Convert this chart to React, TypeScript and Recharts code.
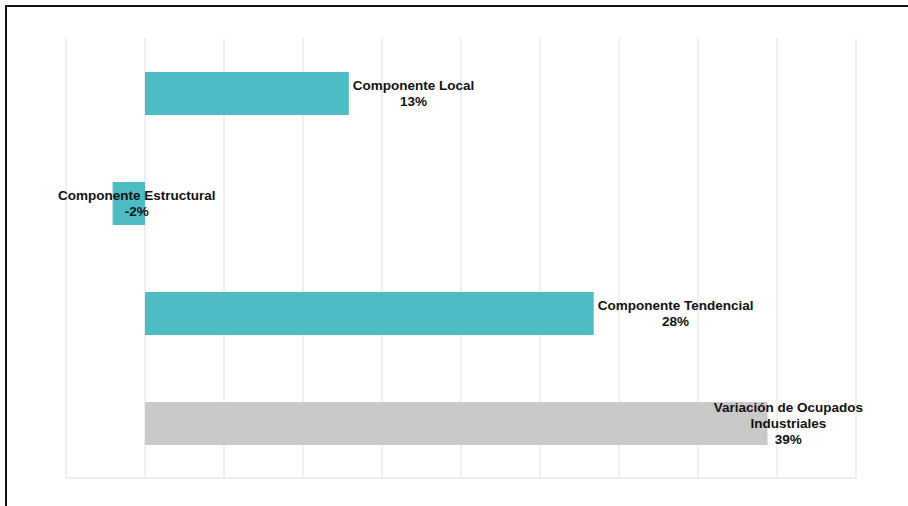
import React from 'react';
import { BarChart, Bar, XAxis, YAxis, CartesianGrid, Cell, LabelList } from 'recharts';

const categories = ['Componente Local', 'Componente Estructural', 'Componente Tendencial', 'Variación de Ocupados Industriales'];
const labelLines = [['Componente Local'], ['Componente Estructural'], ['Componente Tendencial'], ['Variación de Ocupados', 'Industriales']];
const values = [12.9, -2.05, 28.4, 39.4];
const valueLabels = ['13%', '-2%', '28%', '39%'];
const barColors = ['#4EBCC4', '#4EBCC4', '#4EBCC4', '#C9C9C9'];
const xTicks = [-5, 0, 5, 10, 15, 20, 25, 30, 35, 40, 45];

const data = categories.map((name, i) => ({ name, value: values[i] }));

const FONT = 'bold 13.5px "Liberation Sans", Arial, sans-serif';
let ctx: CanvasRenderingContext2D | null = null;
function measure(t: string): number {
  if (!ctx) {
    const c = document.createElement('canvas');
    ctx = c.getContext('2d');
  }
  if (!ctx) return t.length * 7;
  ctx.font = FONT;
  return ctx.measureText(t).width;
}

const MIN_LEFT = 58;
const MAX_RIGHT = 863;
const GAP = 4;
const LINE_H = 16;

function BarLabel(props: any) {
  const { x, y, width, height, index } = props;
  const lines = [...labelLines[index], valueLabels[index]];
  const w = Math.max(...lines.map(measure));
  const barEnd = Number(x) + Number(width);
  const v = values[index];
  let left = v >= 0 ? barEnd + GAP : barEnd - GAP - w;
  if (left + w > MAX_RIGHT) left = MAX_RIGHT - w;
  if (left < MIN_LEFT) left = MIN_LEFT;
  const cx = left + w / 2;
  const cy = Number(y) + Number(height) / 2;
  const n = lines.length;
  return (
    <g>
      {lines.map((l, i) => (
        <text
          key={i}
          x={cx}
          y={cy + (i - (n - 1) / 2) * LINE_H}
          textAnchor="middle"
          dominantBaseline="central"
          fill="#111"
          style={{ font: FONT }}
        >
          {l}
        </text>
      ))}
    </g>
  );
}

const EmptyTick = () => <g />;

export default function App() {
  return (
    <div style={{ position: 'fixed', left: 0, top: 0, width: 908, height: 506, background: '#fff', overflow: 'hidden' }}>
      <div
        style={{
          position: 'absolute',
          left: 5,
          top: 5,
          width: 920,
          height: 520,
          borderTop: '2px solid #111',
          borderLeft: '2px solid #111',
        }}
      />
      <div style={{ position: 'absolute', left: 0, top: 0 }}>
        <BarChart
          width={908}
          height={506}
          data={data}
          layout="vertical"
          margin={{ top: 38, left: 66, right: 52, bottom: 27 }}
        >
          <CartesianGrid vertical horizontal={false} stroke="#e0e0e0" />
          <XAxis
            type="number"
            domain={[-5, 45]}
            ticks={xTicks}
            tick={EmptyTick}
            tickLine={false}
            axisLine={{ stroke: '#d9d9d9' }}
            height={1}
            interval={0}
          />
          <YAxis type="category" dataKey="name" hide />
          <Bar dataKey="value" barSize={43} isAnimationActive={false}>
            {data.map((d, i) => (
              <Cell key={i} fill={barColors[i]} />
            ))}
            <LabelList dataKey="value" content={BarLabel} />
          </Bar>
        </BarChart>
      </div>
    </div>
  );
}
